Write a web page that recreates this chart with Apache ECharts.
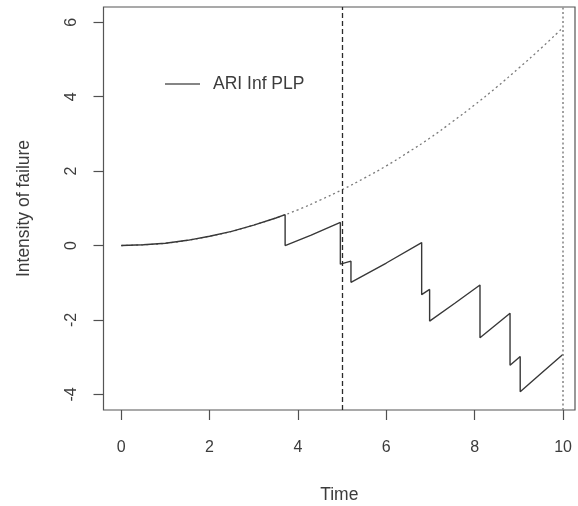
<!DOCTYPE html>
<html>
<head>
<meta charset="utf-8">
<title>ARI Inf PLP intensity</title>
<script src="https://cdn.jsdelivr.net/npm/echarts@6/dist/echarts.min.js"></script>
<style>
  html, body { margin: 0; padding: 0; background: #ffffff; }
  #chart { width: 578px; height: 506px; }
</style>
</head>
<body>
<div id="chart"></div>
<script>
// Baseline power-law intensity (dotted curve)
const baseTimes = [0, 0.5, 1, 1.5, 2, 2.5, 3, 3.5, 4, 4.5, 5, 5.5, 6, 6.5, 7, 7.5, 8, 8.5, 9, 9.5, 10];
const baseIntensity = [0, 0.02, 0.06, 0.14, 0.25, 0.38, 0.55, 0.74, 0.96, 1.22, 1.5, 1.81, 2.14, 2.51, 2.9, 3.33, 3.78, 4.26, 4.77, 5.3, 5.86];

// ARI-infinity intensity path (solid line), vertical drops at each failure
const pathTimes = [0, 0.5, 1, 1.5, 2, 2.5, 3, 3.5, 3.71, 3.71, 4.3, 4.96, 4.96, 5.2, 5.2, 6.0, 6.8, 6.8, 6.98, 6.98, 7.55, 8.12, 8.12, 8.8, 8.8, 9.03, 9.03, 9.5, 10];
const pathIntensity = [0, 0.02, 0.06, 0.14, 0.25, 0.38, 0.55, 0.74, 0.83, 0.0, 0.28, 0.62, -0.5, -0.42, -0.99, -0.47, 0.08, -1.32, -1.18, -2.03, -1.55, -1.06, -2.48, -1.82, -3.22, -2.98, -3.93, -3.44, -2.92];

// Reference times marked with vertical lines
const markTimes = [5, 10];

// Axis tick positions
const xTicks = [0, 2, 4, 6, 8, 10];
const yTicks = [-4, -2, 0, 2, 4, 6];

const seriesName = 'ARI Inf PLP';

const zip = (xs, ys) => xs.map((x, i) => [x, ys[i]]);

const font = '"Liberation Sans", Arial, Helvetica, sans-serif';
const textColor = '#3c3c3c';

const chart = echarts.init(document.getElementById('chart'), null, { renderer: 'canvas' });

chart.setOption({
  animation: false,
  backgroundColor: '#ffffff',
  grid: {
    left: 103.5, right: 3, top: 7, bottom: 96,
    outerBoundsMode: 'none',
    containLabel: false,
    show: true,
    borderColor: '#555555',
    borderWidth: 1.2,
    backgroundColor: 'transparent'
  },
  legend: {
    left: 160,
    top: 70,
    itemWidth: 35,
    itemHeight: 2,
    data: [{ name: seriesName, icon: 'rect', itemStyle: { color: '#858585' } }],
    textStyle: {
      fontFamily: font, fontSize: 17.5, color: textColor,
      padding: [0, 0, 0, 8]
    },
    selectedMode: false
  },
  xAxis: {
    type: 'value',
    min: -0.4,
    max: 10.27,
    name: 'Time',
    nameLocation: 'middle',
    nameGap: 76,
    nameTextStyle: { fontFamily: font, fontSize: 17.5, color: textColor },
    axisLine: { show: false, onZero: false },
    splitLine: { show: false },
    axisTick: {
      show: true, inside: false, length: 10,
      customValues: xTicks,
      lineStyle: { color: '#505050', width: 1.2 }
    },
    axisLabel: {
      customValues: xTicks,
      margin: 30,
      fontFamily: font, fontSize: 16, color: textColor
    }
  },
  yAxis: {
    type: 'value',
    min: -4.42,
    max: 6.41,
    name: 'Intensity of failure',
    nameLocation: 'middle',
    nameGap: 70,
    nameRotate: 90,
    nameTextStyle: { fontFamily: font, fontSize: 17.5, color: textColor },
    axisLine: { show: false, onZero: false },
    splitLine: { show: false },
    axisTick: {
      show: true, inside: false, length: 10,
      customValues: yTicks,
      lineStyle: { color: '#505050', width: 1.2 }
    },
    axisLabel: {
      customValues: yTicks,
      rotate: 90,
      margin: 24,
      fontFamily: font, fontSize: 16, color: textColor
    }
  },
  series: [
    {
      name: 'baseline',
      type: 'line',
      data: zip(baseTimes, baseIntensity),
      smooth: true,
      showSymbol: false,
      silent: true,
      lineStyle: { color: '#7a7a7a', width: 1.3, type: [2, 3] },
      markLine: {
        silent: true,
        symbol: 'none',
        label: { show: false },
        data: [
          { xAxis: markTimes[0], lineStyle: { color: '#2a2a2a', width: 1.3, type: [5, 3] } },
          { xAxis: markTimes[1], lineStyle: { color: '#8a8a8a', width: 1.6, type: [2, 2.5] } }
        ]
      }
    },
    {
      name: seriesName,
      type: 'line',
      data: zip(pathTimes, pathIntensity),
      showSymbol: false,
      silent: true,
      lineStyle: { color: '#383838', width: 1.4 }
    }
  ]
});
</script>
</body>
</html>
